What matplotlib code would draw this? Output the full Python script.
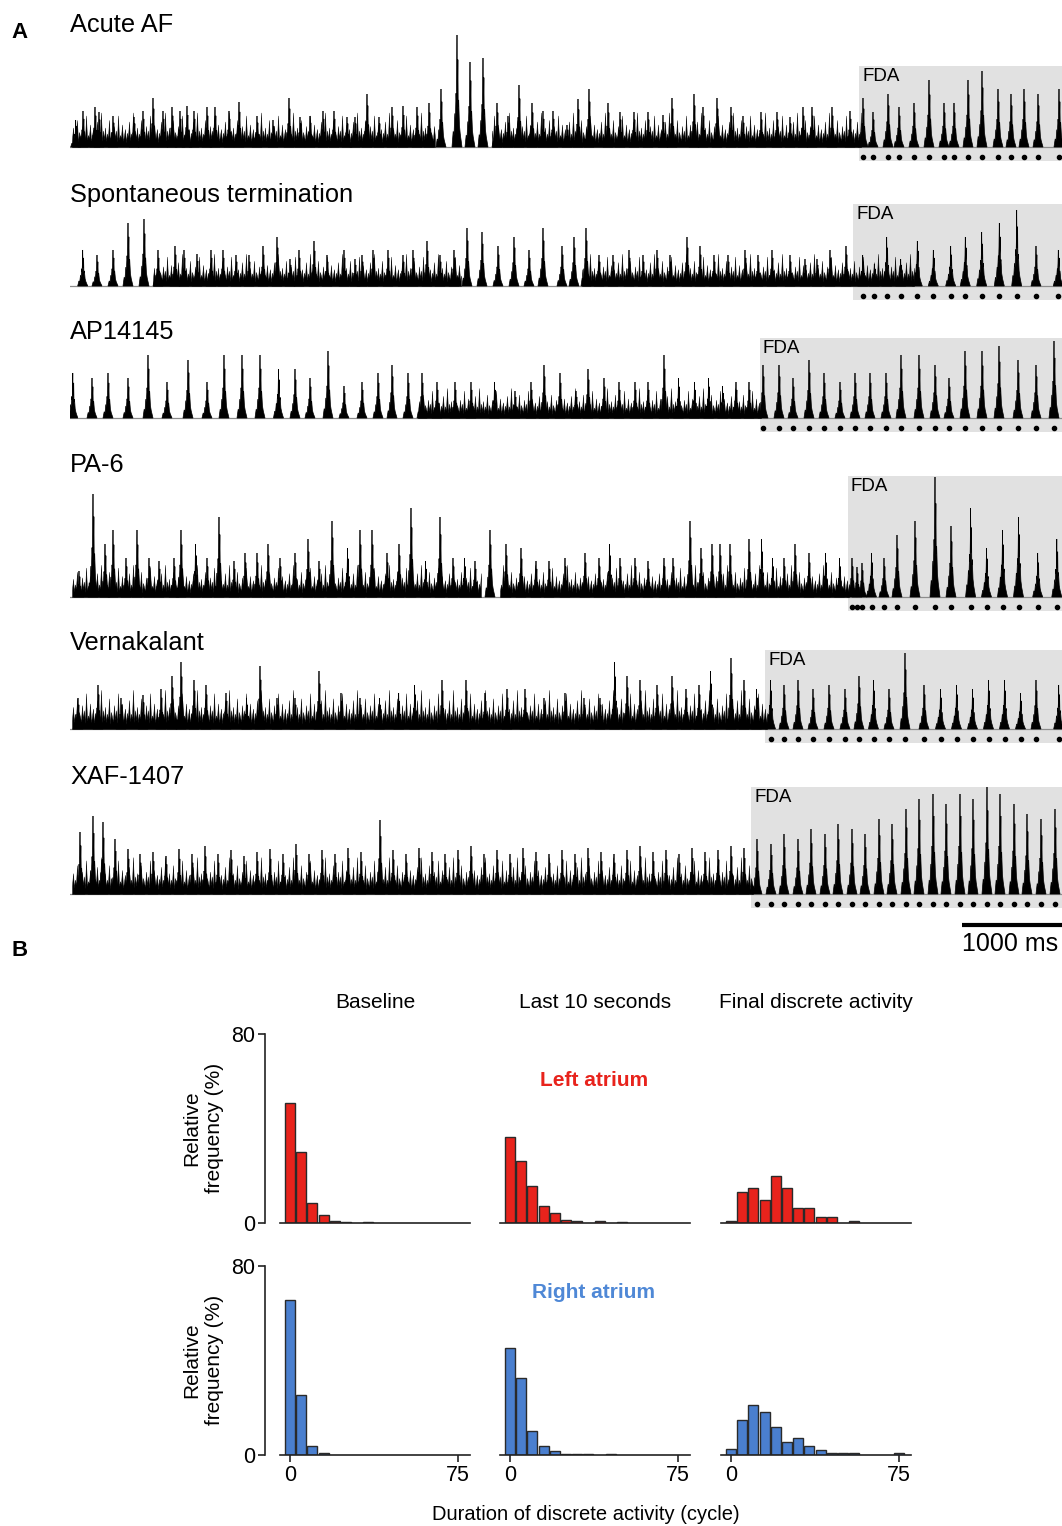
import matplotlib
matplotlib.use('Agg')
import matplotlib.pyplot as plt
from matplotlib.patches import Rectangle, Polygon
import numpy as np

plt.rcParams['font.family'] = ['Liberation Sans', 'DejaVu Sans']

W, H = 1062, 1526
TRACE_LEN = 9920  # ms shown in each trace

# ---------------- panel A data (times in ms, amplitude in a.u.) ----------------
acute_t = [57, 130, 250, 290, 430, 640, 730, 830, 930, 1020, 1100, 1170, 1240, 1370, 1450,
           1590, 1690, 1870, 2030, 2190, 2300, 2400, 2530, 2640, 2770, 2850, 2970, 3090,
           3220, 3330, 3470, 3590, 3710, 3870, 4000, 4130, 4270, 4380, 4490, 4620, 4730,
           4830, 4970, 5080, 5190, 5380, 5500, 5640, 5780, 5930, 6020, 6240, 6330, 6470,
           6610, 6730, 6910, 7070, 7200, 7330, 7420, 7620, 7800]
acute_h = [27, 36, 40, 35, 31, 30, 36, 49, 36, 40, 36, 41, 36, 40, 40,
           36, 45, 31, 27, 49, 30, 31, 36, 36, 30, 30, 53, 30,
           40, 41, 40, 44, 58, 112, 85, 89, 44, 31, 62, 44, 36,
           36, 22, 48, 58, 44, 35, 35, 35, 32, 49, 53, 40, 49,
           40, 31, 35, 35, 30, 40, 40, 40, 36]
acute_fda_t = [7930, 8030, 8180, 8290, 8440, 8590, 8740, 8840, 8980, 9120, 9280, 9410, 9540, 9680, 9890]
acute_fda_h = [49, 35, 53, 40, 44, 67, 44, 44, 67, 76, 58, 53, 58, 53, 58]
acute_busy = [(20, 3660), (4220, 7920)]

spont_t = [127, 270, 430, 580, 740, 880, 1050, 1140, 1270, 1410, 1530, 1660, 1790, 1930, 2070,
           2200, 2290, 2440, 2570, 2740, 2850, 2920, 3030, 3180, 3330, 3430, 3570, 3700,
           3840, 3970, 4120, 4280, 4440, 4590, 4730, 4920, 5040, 5160, 5290, 5430, 5590,
           5730, 5870, 6000, 6170, 6300, 6440, 6580, 6750, 6880, 7020, 7200, 7350, 7470,
           7600, 7760]
spont_h = [36, 31, 36, 63, 67, 36, 40, 36, 32, 36, 36, 31, 31, 40, 49,
           27, 36, 45, 31, 36, 27, 31, 36, 36, 31, 36, 45, 31,
           36, 58, 54, 40, 49, 36, 58, 40, 49, 58, 31, 31, 36,
           31, 36, 31, 49, 40, 31, 31, 36, 31, 36, 31, 27, 27,
           36, 40]
spont_fda_t = [7927, 8043, 8167, 8307, 8473, 8633, 8807, 8953, 9117, 9293, 9467, 9660, 9883]
spont_fda_h = [31, 22, 49, 27, 45, 36, 40, 49, 54, 63, 76, 40, 36]
spont_busy = [(830, 3920), (5120, 8450)]

ap_t = [28, 220, 380, 580, 780, 970, 1180, 1370, 1540, 1720, 1900, 2085, 2250, 2400, 2580,
        2740, 2920, 3080, 3220, 3380, 3520, 3670, 3850, 4010, 4245, 4450, 4610, 4740,
        4900, 5060, 5180, 5340, 5490, 5650, 5780, 5940, 6085, 6245, 6386, 6526, 6660, 6790]
ap_h = [45, 40, 45, 40, 63, 36, 58, 36, 63, 63, 63, 49, 49, 40, 67,
        32, 36, 45, 53, 45, 45, 36, 36, 36, 36, 27, 36, 53,
        45, 27, 49, 40, 36, 36, 36, 63, 40, 36, 40, 32, 36, 36]
ap_fda_t = [6930, 7090, 7230, 7390, 7540, 7700, 7850, 8000, 8160, 8310, 8490, 8650, 8790,
            8950, 9120, 9290, 9480, 9660, 9840]
ap_fda_h = [53, 53, 40, 58, 45, 36, 45, 45, 45, 63, 63, 53, 40, 67, 67, 72, 58, 53, 77]
ap_busy = [(3480, 6920)]

pa6_t = [90, 230, 350, 430, 560, 670, 790, 890, 1040, 1110, 1255, 1370, 1490, 1640, 1750,
         1870, 1980, 2100, 2250, 2380, 2490, 2620, 2775, 2900, 3020, 3170, 3290, 3410,
         3555, 3700, 3830, 3945, 4050, 4200, 4360, 4510, 4660, 4790, 4950, 5150, 5290,
         5395, 5500, 5650, 5780, 5940, 6030, 6200, 6310, 6420, 6500, 6600, 6790, 6916,
         7025, 7140, 7250, 7390, 7555, 7695]
pa6_h = [26, 103, 53, 67, 39, 67, 39, 36, 39, 67, 53, 39, 80, 36, 44,
         44, 53, 39, 44, 58, 36, 76, 49, 67, 67, 44, 53, 89,
         36, 80, 39, 39, 36, 67, 53, 49, 36, 36, 39, 44, 39,
         53, 39, 39, 36, 39, 39, 76, 49, 53, 53, 53, 58, 58,
         39, 39, 53, 44, 44, 39]
pa6_fda_t = [7820, 7870, 7920, 8015, 8140, 8270, 8450, 8650, 8810, 9006, 9165, 9325, 9485, 9677, 9868]
pa6_fda_h = [39, 30, 34, 44, 39, 62, 76, 120, 71, 89, 49, 67, 80, 44, 58]
pa6_busy = [(20, 4120), (4300, 7800)]

vern_t = [80, 280, 510, 730, 910, 1020, 1110, 1240, 1360, 1560, 1766, 1900, 2070, 2250, 2490,
          2710, 2900, 3095, 3287, 3446, 3720, 3960, 4150, 4370, 4550, 4740, 4950, 5140,
          5300, 5446, 5570, 5700, 5870, 6020, 6160, 6290, 6405, 6610, 6740, 6865]
vern_h = [31, 44, 31, 34, 40, 53, 67, 49, 44, 36, 31, 63, 31, 31, 58,
          36, 31, 31, 36, 44, 49, 49, 36, 40, 40, 31, 36, 31,
          31, 67, 53, 49, 44, 53, 40, 44, 58, 71, 49, 40]
vern_fda_t = [7005, 7140, 7280, 7430, 7590, 7750, 7890, 8035, 8190, 8350, 8540, 8705, 8865,
              9025, 9185, 9345, 9505, 9660, 9887]
vern_fda_h = [49, 44, 49, 40, 44, 40, 53, 49, 40, 76, 44, 40, 44, 40, 49, 49, 36, 49, 44]
vern_busy = [(20, 6980)]

xaf_t = [100, 230, 330, 450, 580, 700, 830, 960, 1090, 1220, 1350, 1480, 1610, 1740, 1870,
         2000, 2130, 2260, 2390, 2520, 2650, 2780, 2910, 3100, 3230, 3360, 3490, 3620,
         3750, 3880, 4010, 4140, 4270, 4400, 4530, 4660, 4790, 4920, 5050, 5180, 5310,
         5440, 5570, 5700, 5830, 5960, 6090, 6220, 6350, 6480, 6610, 6740]
xaf_h = [62, 78, 72, 55, 45, 40, 42, 38, 45, 40, 48, 40, 44, 38, 42,
         45, 40, 50, 40, 44, 40, 46, 42, 74, 44, 40, 46, 42,
         40, 44, 48, 40, 44, 40, 46, 42, 40, 44, 40, 46, 42,
         40, 44, 48, 42, 44, 40, 46, 42, 44, 48, 46]
xaf_fda_t = [6870, 7010, 7140, 7280, 7410, 7550, 7680, 7820, 7950, 8090, 8220, 8360, 8490,
             8630, 8760, 8900, 9030, 9170, 9300, 9440, 9570, 9710, 9850]
xaf_fda_h = [55, 50, 60, 55, 65, 60, 70, 65, 60, 75, 70, 85, 95, 100, 90, 100, 95, 107, 100,
             90, 80, 75, 85]
xaf_busy = [(20, 6840)]

trace_names = ['Acute AF', 'Spontaneous termination', 'AP14145', 'PA-6', 'Vernakalant', 'XAF-1407']
fda_start = [7890, 7830, 6900, 7780, 6950, 6810]
fda_top = [81, 82, 80, 121, 79, 107]
floor_level = [15, 14, 13, 14, 17, 16]

# hand-read texture of the fragmented low-level activity (relative heights)
texture = [0.5, 1.3, 0.4, 0.9, 0.6, 1.8, 0.3, 1.0, 0.7, 0.45, 1.4, 0.55, 1.1, 0.35,
           2.1, 0.5, 0.8, 0.6, 1.5, 0.4, 0.75, 1.2, 0.3, 0.95, 0.65, 1.7, 0.45, 0.9,
           0.6, 2.3, 0.4, 1.1]

traces = [
    (acute_t, acute_h, acute_fda_t, acute_fda_h, acute_busy),
    (spont_t, spont_h, spont_fda_t, spont_fda_h, spont_busy),
    (ap_t, ap_h, ap_fda_t, ap_fda_h, ap_busy),
    (pa6_t, pa6_h, pa6_fda_t, pa6_fda_h, pa6_busy),
    (vern_t, vern_h, vern_fda_t, vern_fda_h, vern_busy),
    (xaf_t, xaf_h, xaf_fda_t, xaf_fda_h, xaf_busy),
]

# ---------------- panel B data ----------------
bins = [0, 5, 10, 15, 20, 25, 30, 35, 40, 45, 50, 55, 60, 65, 70, 75]
la_baseline = [50.9, 30.2, 8.3, 3.4, 1.0, 0.5, 0, 0.3, 0, 0, 0, 0, 0, 0, 0, 0]
la_last10 = [36.3, 26.1, 15.7, 7.2, 4.1, 1.4, 0.7, 0, 1.0, 0, 0.4, 0, 0, 0, 0, 0]
la_fda = [1.0, 13.1, 14.8, 9.7, 20.0, 14.8, 6.2, 6.2, 2.7, 2.7, 0, 1.0, 0, 0, 0, 0]
ra_baseline = [65.8, 25.6, 3.8, 1.0, 0, 0, 0, 0, 0, 0, 0, 0, 0, 0, 0, 0]
ra_last10 = [45.5, 32.4, 10.0, 3.8, 1.7, 0.4, 0.6, 0.3, 0, 0.3, 0, 0, 0, 0, 0, 0]
ra_fda = [2.4, 14.9, 21.1, 18.0, 11.8, 5.5, 7.0, 3.9, 2.2, 0.8, 0.8, 0.8, 0, 0, 0, 0.8]
col_titles = ['Baseline', 'Last 10 seconds', 'Final discrete activity']

RED = '#e8231c'
BLUE = '#4a7fcf'


def fx(px):
    return px / W


def fy(py):
    return 1 - py / H


fig = plt.figure(figsize=(W / 100, H / 100), dpi=100)

# ---------------- panel A ----------------
baseline_px = [147, 286, 418, 597, 729, 894]
title_px = [25, 195, 332, 465, 643, 777]
# ragged spike outline for one activation (offset in ms, fraction of peak)
beat_dx = [-50, -38, -30, -22, -16, -10, -6, -3, 0, 3, 6, 9, 12, 17, 24, 32, 50]
beat_dy = [0, 0.14, 0.1, 0.3, 0.25, 0.48, 0.4, 0.62, 1.0, 0.5, 0.56, 0.78, 0.36, 0.42, 0.2, 0.12, 0]

for i, (t, h, ft, fh, busy) in enumerate(traces):
    b = baseline_px[i]
    ax = fig.add_axes([fx(70), fy(b + 16), fx(992), 141 / H])
    ax.set_xlim(0, TRACE_LEN)
    ax.set_ylim(-16, 125)
    ax.axis('off')
    ax.patch.set_alpha(0)

    ax.add_patch(Rectangle((fda_start[i], -14), TRACE_LEN - fda_start[i], fda_top[i] + 14,
                           facecolor='#e1e1e1', edgecolor='none', zorder=0))
    ax.text(fda_start[i] + 30, fda_top[i] - 2, 'FDA', fontsize=13.5, va='top', ha='left', zorder=1)
    ax.axhline(0, color='#8c8c8c', lw=0.9, zorder=1)

    # fragmented low-level activity
    n = 0
    for s, e in busy:
        xs = np.arange(s, e, 10)
        ys = [floor_level[i] * texture[(n + k) % len(texture)] for k in range(len(xs))]
        n += len(xs)
        ax.fill_between(xs, 0, ys, color='black', lw=0.3, zorder=2)

    for tt, hh in list(zip(t, h)) + list(zip(ft, fh)):
        pts = [(tt + dx, hh * dy) for dx, dy in zip(beat_dx, beat_dy)]
        ax.add_patch(Polygon(pts, closed=True, facecolor='black', edgecolor='black',
                             lw=0.5, zorder=3))

    ax.plot(ft, [-10] * len(ft), 'o', color='black', ms=3, zorder=3)

    fig.text(fx(70), fy(title_px[i]), trace_names[i], fontsize=18.3, ha='left', va='center')

    if i == len(traces) - 1:
        ax.plot([TRACE_LEN - 1000, TRACE_LEN], [-31, -31], color='black', lw=3,
                solid_capstyle='butt', clip_on=False)
        ax.text(TRACE_LEN - 520, -38, '1000 ms', fontsize=18, ha='center', va='top',
                clip_on=False)

fig.text(fx(20), fy(33), 'A', fontsize=16, fontweight='bold', ha='center', va='center')
fig.text(fx(20), fy(951), 'B', fontsize=16, fontweight='bold', ha='center', va='center')

# ---------------- panel B ----------------
rows = [(1034, [la_baseline, la_last10, la_fda], RED),
        (1266, [ra_baseline, ra_last10, ra_fda], BLUE)]
col_left = [280, 500, 721]

for r, (top, series, color) in enumerate(rows):
    for c, vals in enumerate(series):
        ax = fig.add_axes([fx(col_left[c]), fy(top + 189), fx(190), 189 / H])
        xs = [b for b, v in zip(bins, vals) if v > 0]
        vs = [v for v in vals if v > 0]
        ax.bar(xs, vs, width=4.4, color=color, edgecolor='#2a2a2a', linewidth=1.0, zorder=2)
        ax.set_xlim(-4.46, 80.36)
        ax.set_ylim(0, 80)
        for s in ['top', 'right']:
            ax.spines[s].set_visible(False)
        ax.spines['bottom'].set_linewidth(1.2)
        ax.spines['bottom'].set_color('#222222')
        if c == 0:
            ax.spines['left'].set_position(('outward', 11))
            ax.spines['left'].set_linewidth(1.2)
            ax.spines['left'].set_color('#222222')
            ax.set_yticks([0, 80])
            ax.tick_params(axis='y', length=5, width=1.2, labelsize=15.5, color='#222222', pad=2)
        else:
            ax.spines['left'].set_visible(False)
            ax.set_yticks([])
        if r == 1:
            ax.set_xticks([0, 75])
            ax.tick_params(axis='x', length=5, width=1.2, labelsize=15.5, color='#222222', pad=2)
        else:
            ax.set_xticks([])
        ax.patch.set_alpha(0)

    fig.text(fx(203), fy(top + 94), 'Relative\nfrequency (%)', rotation=90, fontsize=15,
             ha='center', va='center', multialignment='center')

for c, title in enumerate(col_titles):
    fig.text(fx(col_left[c] + 95), fy(1003), title, fontsize=15, ha='center', va='center')

fig.text(fx(594), fy(1080), 'Left atrium', fontsize=15, fontweight='bold', color=RED,
         ha='center', va='center')
fig.text(fx(594), fy(1293), 'Right atrium', fontsize=15, fontweight='bold', color='#4f88d6',
         ha='center', va='center')
fig.text(fx(586), fy(1514), 'Duration of discrete activity (cycle)', fontsize=14.5,
         ha='center', va='center')

fig.savefig('out.png', dpi=100)
